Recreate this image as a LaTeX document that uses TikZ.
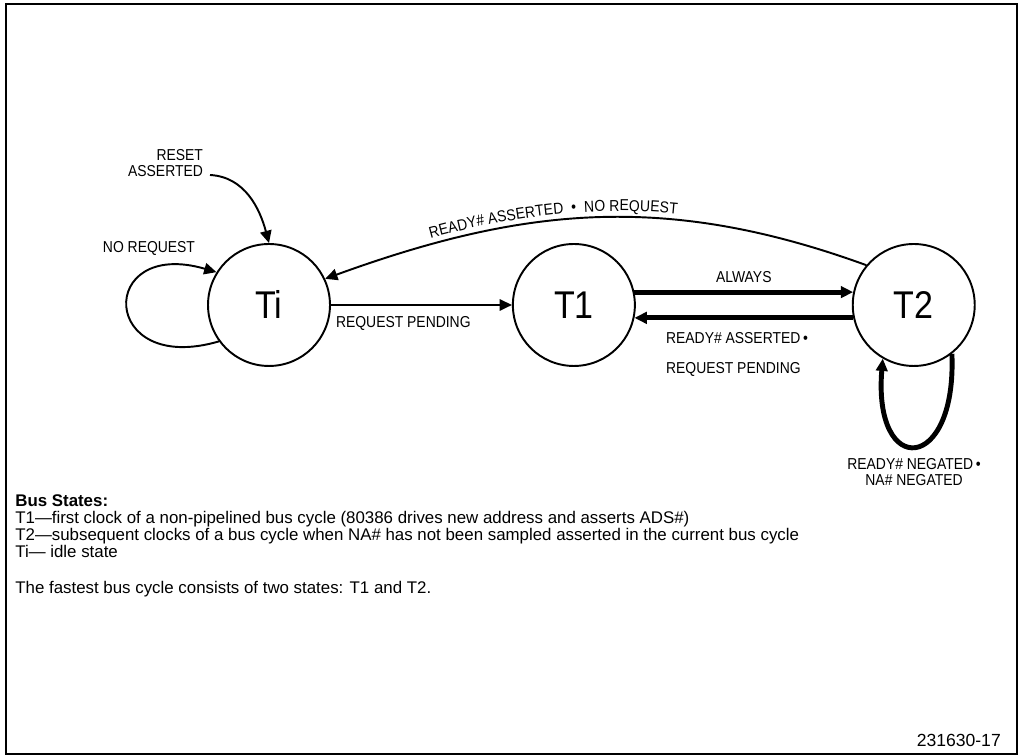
\documentclass[tikz,border=0pt]{standalone}
\usepackage{fontspec}
\setmainfont{Liberation Sans}
\newfontfamily\lblfont[FakeStretch=0.88]{Liberation Sans}
\usepackage{tikz}
\usetikzlibrary{arrows.meta,positioning,decorations.text}

\begin{document}
\begin{tikzpicture}[x=0.02cm, y=0.02cm, >={Triangle[length=7pt,width=6.5pt]}]
\tikzset{state/.style={draw, circle, line width=1.1pt, minimum size=2.44cm, inner sep=0pt, font=\lblfont\fontsize{22}{22}\selectfont}, lbl/.style={font=\lblfont\fontsize{9}{9.5}\selectfont, inner sep=1pt}, arr/.style={->, line width=1.1pt}, heavy/.style={->, line width=2.8pt}}
\useasboundingbox (0,0) rectangle (1020,756);
\draw[line width=1.1pt] (6,2) rectangle (1017,752);
% states
\node[state] (ti) at (269,451) {Ti};
\node[state, right=3.62cm of ti] (t1) {T1};
\node[state, right=4.32cm of t1] (t2) {T2};
% reset
\node[lbl, align=right, anchor=east] (rstlbl) at (205,593) {RESET\\ASSERTED};
\coordinate (rst) at (210,581);
\draw[arr] (rst) to[out=-3, in=105] (ti.north);
% idle loop
\draw[arr] (ti.216) .. controls +(-120,-35) and +(-120,35) .. (ti.148);
\node[lbl] (noreq) at (149,508) {NO REQUEST};
% transitions
\draw[arr] (ti) -- (t1) node[lbl, below=5pt, pos=0.4] (reqpend) {REQUEST PENDING};
\draw[heavy] (t1.12) -- (t2.168) node[lbl, midway, above=3pt] (always) {ALWAYS};
\draw[heavy] (t2.192) -- (t1.-12);
\node[lbl, align=left, anchor=north west] (rdyreq) at (664,426) {READY\# ASSERTED\,•\\[8pt]REQUEST PENDING};
\draw[arr, <-, postaction={decorate}, decoration={text along path, text={|\lblfont\fontsize{9}{9}\selectfont|READY{\#} ASSERTED ~•~ NO REQUEST}, text align={left, left indent=64pt}, raise=3.5pt}] (ti.25) to[out=20, in=160] (t2.140);
% wait loop
\draw[heavy] (t2.-52) .. controls +(5,-120) and +(-10,-120) .. (t2.-120);
\node[lbl, align=center] (negated) at (914,284) {READY\# NEGATED\,•\\NA\# NEGATED};
% notes
\node[anchor=north west, align=left, inner sep=0pt, font=\fontsize{9.6}{9.7}\selectfont] (notes) at (15,262) {\textbf{Bus States:}\\T1---first clock of a non-pipelined bus cycle (80386 drives new address and asserts ADS\#)\\T2---subsequent clocks of a bus cycle when NA\# has not been sampled asserted in the current bus cycle\\Ti--- idle state\\[11pt]The fastest bus cycle consists of two states: T1 and T2.};
\node[anchor=east, font=\fontsize{10}{10}\selectfont] (figno) at (1007,16) {231630-17};
\end{tikzpicture}
\end{document}
